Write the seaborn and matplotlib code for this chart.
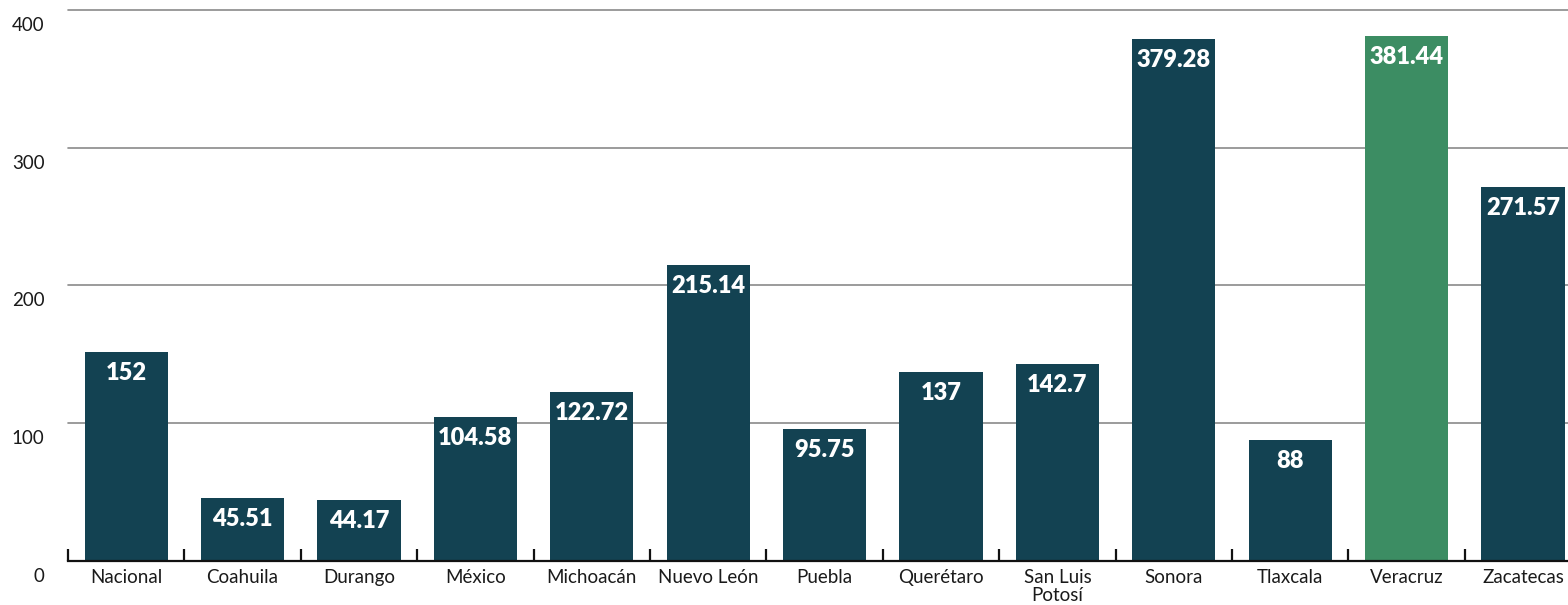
import matplotlib
matplotlib.use("Agg")
import matplotlib.pyplot as plt
from matplotlib.transforms import ScaledTranslation
import seaborn as sns
import pandas as pd

# Chart data
estados = ['Nacional', 'Coahuila', 'Durango', 'México', 'Michoacán', 'Nuevo León',
           'Puebla', 'Querétaro', 'San Luis\nPotosí', 'Sonora', 'Tlaxcala',
           'Veracruz', 'Zacatecas']
valores = [152, 45.51, 44.17, 104.58, 122.72, 215.14, 95.75, 137, 142.7,
           379.28, 88, 381.44, 271.57]
y_ticks = [0, 100, 200, 300, 400]

DARK = '#134252'
GREEN = '#3c8d63'
colores = [GREEN if e == 'Veracruz' else DARK for e in estados]

df = pd.DataFrame({'estado': estados, 'valor': valores})

sns.set_theme(style='white')
plt.rcParams['font.family'] = ['Lato', 'DejaVu Sans']

fig = plt.figure(figsize=(15.68, 6.05), dpi=100)
# axes extends slightly beyond the right edge, like the reference
ax = fig.add_axes([68 / 1568, 44 / 605, 13 * 116.4 / 1568, 552 / 605])

sns.barplot(data=df, x='estado', y='valor', hue='estado', palette=colores,
            legend=False, width=0.715, saturation=1, linewidth=0, ax=ax, zorder=3)

ax.set_xlim(-0.5, 12.5)
ax.set_ylim(0, 400.7)
ax.set_yticks(y_ticks)
ax.set_xlabel('')
ax.set_ylabel('')

# gridlines
for t in y_ticks[1:]:
    ax.axhline(t, color='#8a8a8a', lw=1.2, zorder=1, clip_on=False)

for s in ['top', 'right', 'left']:
    ax.spines[s].set_visible(False)
ax.spines['bottom'].set_color('#111111')
ax.spines['bottom'].set_linewidth(1.6)
ax.spines['bottom'].set_zorder(4)

# ticks between categories
ax.set_xticks([i - 0.5 for i in range(len(estados))], minor=True)
ax.tick_params(axis='x', which='minor', direction='in', length=9, width=1.6,
               color='#111111', bottom=True)
ax.tick_params(axis='x', which='major', length=0, pad=6, labelsize=13.5,
               labelcolor='#1a1a1a')
ax.tick_params(axis='y', length=0, pad=17, labelsize=13.5, labelcolor='#1a1a1a')
for lbl in ax.get_xticklabels():
    lbl.set_linespacing(1.05)

# y labels sit a little below their gridline
shift = ScaledTranslation(0, -14 / 100, fig.dpi_scale_trans)
for lbl in ax.get_yticklabels():
    lbl.set_transform(lbl.get_transform() + shift)

# value labels inside the bars
for i, v in enumerate(valores):
    ax.annotate(f'{v:g}', xy=(i, v), xytext=(0, -21), textcoords='offset pixels',
                ha='center', va='center', color='white', fontsize=17,
                fontweight='heavy', zorder=5)

fig.savefig('out.png', dpi=100)
